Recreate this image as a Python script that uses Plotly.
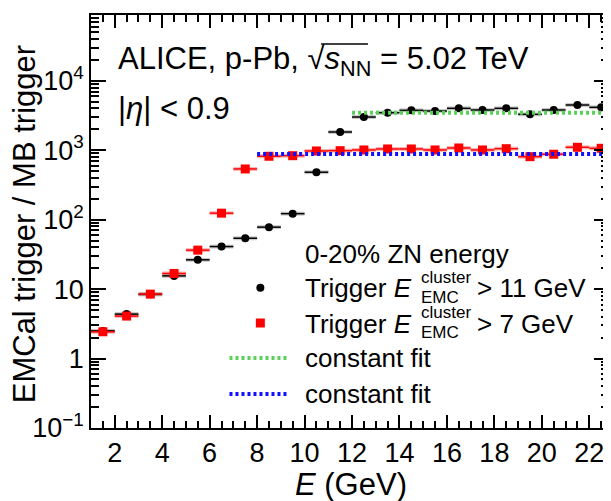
import plotly.graph_objects as go

# ---------------- data ----------------
E_center = [1.5, 2.5, 3.5, 4.5, 5.5, 6.5, 7.5, 8.5, 9.5, 10.5, 11.5,
            12.5, 13.5, 14.5, 15.5, 16.5, 17.5, 18.5, 19.5, 20.5, 21.5, 22.5]
E_halfwidth = [0.5] * 22
ratio_trig11 = [2.5, 4.37, 8.4, 15.5, 26.4, 41, 54, 78, 122, 482, 1829,
                3006, 3467, 3754, 3668, 4010, 3793, 4010, 3288, 3793, 4477, 4148]
ratio_trig7 = [2.43, 4.09, 8.47, 16.8, 36.4, 124, 537, 818, 834, 975, 985,
               1008, 1042, 1042, 1008, 1077, 1008, 1052, 807, 875, 1102, 1066]
fit11_x = [12, 23]
fit11_y = [3467, 3467]
fit7_x = [8, 23]
fit7_y = [883, 883]
xtick_vals = [2, 4, 6, 8, 10, 12, 14, 16, 18, 20, 22]
ytick_vals = [0.1, 1, 10, 100, 1000, 10000]
ytick_text = ["10<sup>\u22121</sup>", "1", "10", "10<sup>2</sup>", "10<sup>3</sup>", "10<sup>4</sup>"]

FONT = "Liberation Sans, Arial, Helvetica, sans-serif"

# page geometry (pixels, in window coordinates); body has 8px default margin
WIN_W, WIN_H, OFF = 611, 501, 8
L, R, T, B = 91, 611, 15, 428


def px(x):
    return (x - L) / (R - L)


def py(y):
    return (B - y) / (B - T)


fig = go.Figure()

# light bands behind the bin-width bars
fig.add_trace(go.Scatter(x=E_center, y=ratio_trig7, mode="markers",
                         marker=dict(size=1, color="rgba(0,0,0,0)"),
                         error_x=dict(type="data", array=E_halfwidth, width=0,
                                      thickness=4, color="rgba(255,110,110,0.5)"),
                         showlegend=False, hoverinfo="skip"))
fig.add_trace(go.Scatter(x=E_center, y=ratio_trig11, mode="markers",
                         marker=dict(size=1, color="rgba(0,0,0,0)"),
                         error_x=dict(type="data", array=E_halfwidth, width=0,
                                      thickness=4, color="rgba(120,120,120,0.4)"),
                         showlegend=False, hoverinfo="skip"))

fig.add_trace(go.Scatter(x=E_center, y=ratio_trig11, mode="markers",
                         marker=dict(symbol="circle", size=8, color="black"),
                         error_x=dict(type="data", array=E_halfwidth, width=0,
                                      thickness=1.5, color="black"),
                         showlegend=False))
fig.add_trace(go.Scatter(x=E_center, y=ratio_trig7, mode="markers",
                         marker=dict(symbol="square", size=9, color="#ff0000"),
                         error_x=dict(type="data", array=E_halfwidth, width=0,
                                      thickness=1.5, color="#ff0000"),
                         showlegend=False))

fig.add_trace(go.Scatter(x=fit11_x, y=fit11_y, mode="lines",
                         line=dict(color="#5ad25a", width=4, dash="3px,3px"),
                         showlegend=False))
fig.add_trace(go.Scatter(x=fit7_x, y=fit7_y, mode="lines",
                         line=dict(color="#1010ff", width=4, dash="3px,3px"),
                         showlegend=False))

# legend keys on a pixel-space overlay axis
fig.add_trace(go.Scatter(x=[261], y=[287.7], xaxis="x2", yaxis="y2", mode="markers",
                         marker=dict(symbol="circle", size=8, color="black"),
                         showlegend=False, hoverinfo="skip"))
fig.add_trace(go.Scatter(x=[261], y=[323], xaxis="x2", yaxis="y2", mode="markers",
                         marker=dict(symbol="square", size=9, color="#ff0000"),
                         showlegend=False, hoverinfo="skip"))
fig.add_trace(go.Scatter(x=[230, 290], y=[358, 358], xaxis="x2", yaxis="y2", mode="lines",
                         line=dict(color="#5ad25a", width=4, dash="3px,3px"),
                         showlegend=False, hoverinfo="skip"))
fig.add_trace(go.Scatter(x=[230, 290], y=[394, 394], xaxis="x2", yaxis="y2", mode="lines",
                         line=dict(color="#1010ff", width=4, dash="3px,3px"),
                         showlegend=False, hoverinfo="skip"))

annotations = []


def text(s, x, y, size, xanchor="left", angle=0):
    annotations.append(dict(text=s, x=px(x), y=py(y), xref="paper", yref="paper",
                            xanchor=xanchor, yanchor="middle", showarrow=False,
                            textangle=angle, borderpad=0,
                            font=dict(family=FONT, size=size, color="black")))


text("ALICE, p-Pb, \u221a<i>s</i><sub>NN</sub> = 5.02 TeV", 117, 61, 31)
text("|<i>\u03b7</i>| < 0.9", 117, 108, 31)
text("0-20% ZN energy", 305, 254, 26)
text("Trigger <i>E</i>", 305, 288, 26)
text("cluster", 421, 277, 17)
text("EMC", 421, 297, 17)
text("> 11 GeV", 477, 288, 26)
text("Trigger <i>E</i>", 305, 323.5, 26)
text("cluster", 421, 312.5, 17)
text("EMC", 421, 332.5, 17)
text("> 7 GeV", 477, 323.5, 26)
text("constant fit", 305, 358, 26)
text("constant fit", 305, 394, 26)
text("<i>E</i> (GeV)", 352, 484, 31, xanchor="center")
text("EMCal trigger / MB trigger", 25, 224, 31, xanchor="center", angle=-90)

axis_common = dict(showline=True, linecolor="black", linewidth=1.5, mirror="allticks",
                   ticks="inside", tickcolor="black", tickwidth=1.5,
                   showgrid=False, zeroline=False,
                   tickfont=dict(family=FONT, size=27, color="black"))

fig.update_layout(
    width=WIN_W - OFF, height=WIN_H - OFF, autosize=False,
    margin=dict(l=L - OFF, r=WIN_W - R, t=T - OFF, b=WIN_H - B, pad=0),
    paper_bgcolor="white", plot_bgcolor="white",
    font=dict(family=FONT, color="black"),
    xaxis=dict(range=[1, 22.83], tickmode="array", tickvals=xtick_vals, ticklen=13,
               minor=dict(ticks="inside", ticklen=7, tickwidth=1.5, dtick=0.5, tick0=1,
                          tickcolor="black", showgrid=False),
               **axis_common),
    yaxis=dict(type="log", range=[-1, 4.947], tickmode="array", tickvals=ytick_vals,
               ticktext=ytick_text, ticklen=15,
               minor=dict(ticks="inside", ticklen=8, tickwidth=1.5, dtick="D1",
                          tickcolor="black", showgrid=False),
               **axis_common),
    xaxis2=dict(overlaying="x", range=[L, R], visible=False),
    yaxis2=dict(overlaying="y", range=[B, T], visible=False),
    annotations=annotations,
    shapes=[dict(type="line", xref="paper", yref="paper", x0=px(322), x1=px(369),
                 y0=py(44), y1=py(44), line=dict(color="black", width=1.5))],
    showlegend=False,
)

fig.write_html("out.html")
